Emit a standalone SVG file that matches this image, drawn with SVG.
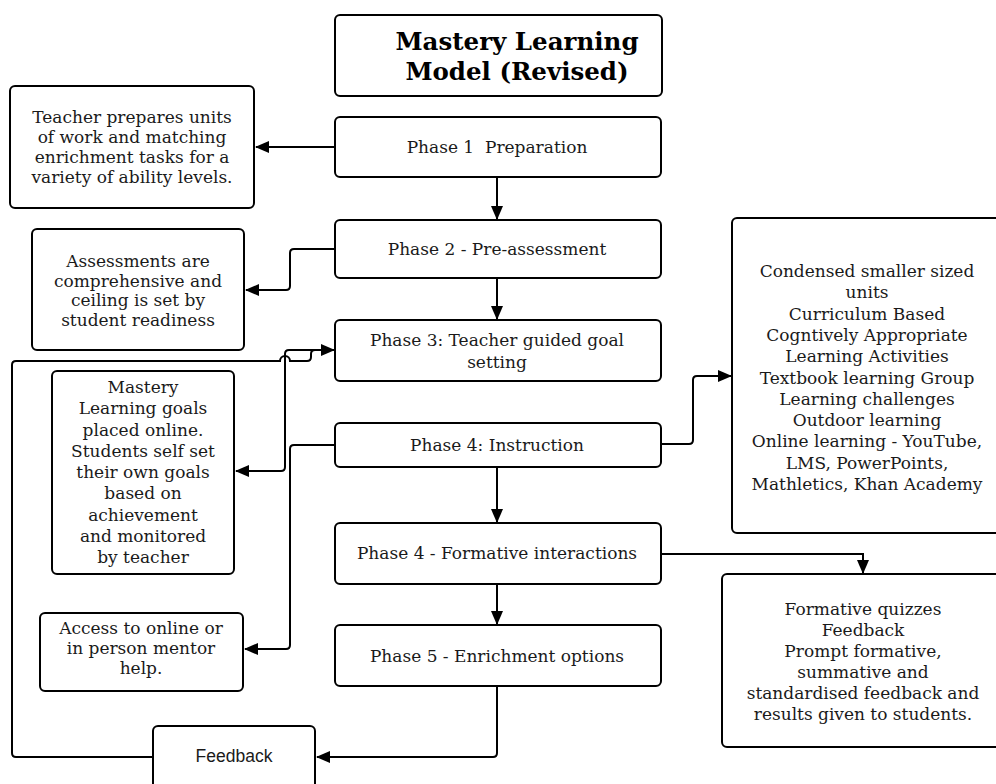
<svg xmlns="http://www.w3.org/2000/svg" width="996" height="784" viewBox="0 0 996 784">
<defs>
<marker id="ah" markerUnits="userSpaceOnUse" markerWidth="14" markerHeight="12" refX="13" refY="6" orient="auto">
<path d="M0,0 L14,6 L0,12 Z" fill="#000"/>
</marker>
<style>
.box{fill:#fff;stroke:#000;stroke-width:2}
.t{font-family:"DejaVu Serif","Liberation Serif",serif;font-size:17px;fill:#1a1a1a;text-anchor:middle;white-space:pre}
.ti{font-family:"DejaVu Serif","Liberation Serif",serif;font-size:24.5px;font-weight:bold;fill:#000;text-anchor:middle}
.s{font-family:"Liberation Sans",Arial,sans-serif;font-size:17.5px;fill:#1a1a1a;text-anchor:middle}
.c{fill:none;stroke:#000;stroke-width:2}
</style>
</defs>
<rect width="996" height="784" fill="#fff"/>
<g id="connectors">
<path class="c" d="M335,147 H256" marker-end="url(#ah)"/>
<path class="c" d="M497,177 V219" marker-end="url(#ah)"/>
<path class="c" d="M335,249 H294 Q290,249 290,253 V286 Q290,290 286,290 H246" marker-end="url(#ah)"/>
<path class="c" d="M497,278 V319" marker-end="url(#ah)"/>
<path class="c" d="M335,350 H289 Q285,350 285,354 V467 Q285,471 281,471 H236" marker-end="url(#ah)"/>
<path class="c" d="M335,445 H294 Q290,445 290,449 V645 Q290,649 286,649 H245" marker-end="url(#ah)"/>
<path class="c" d="M661,444 H689 Q693,444 693,440 V380 Q693,376 697,376 H731" marker-end="url(#ah)"/>
<path class="c" d="M497,467 V522" marker-end="url(#ah)"/>
<path class="c" d="M661,554 H863 V573" marker-end="url(#ah)"/>
<path class="c" d="M497,584 V624" marker-end="url(#ah)"/>
<path class="c" d="M497,686 V753 Q497,757 493,757 H317" marker-end="url(#ah)"/>
<path class="c" d="M153,757 H16 Q12,757 12,753 V365 Q12,361 16,361 H280 A5,5 0 0 1 290,361 H307 Q311,361 311,357 V354 Q311,350 315,350 H334" marker-end="url(#ah)"/>
</g>
<g id="title">
<rect class="box" x="335" y="15" width="327" height="81" rx="5"/>
<text class="ti" x="517" y="50">Mastery Learning</text>
<text class="ti" x="517" y="80">Model (Revised)</text>
</g>
<g id="phase1">
<rect class="box" x="335" y="117" width="326" height="60" rx="5"/>
<text class="t" x="497" y="153" xml:space="preserve">Phase 1  Preparation</text>
</g>
<g id="phase2">
<rect class="box" x="335" y="220" width="326" height="58" rx="5"/>
<text class="t" x="497" y="255">Phase 2 - Pre-assessment</text>
</g>
<g id="phase3">
<rect class="box" x="335" y="320" width="326" height="61" rx="5"/>
<text class="t" x="497" y="346">Phase 3: Teacher guided goal</text>
<text class="t" x="497" y="368">setting</text>
</g>
<g id="phase4">
<rect class="box" x="335" y="423" width="326" height="44" rx="5"/>
<text class="t" x="497" y="451">Phase 4: Instruction</text>
</g>
<g id="phase4b">
<rect class="box" x="335" y="523" width="326" height="61" rx="5"/>
<text class="t" x="497" y="559">Phase 4 - Formative interactions</text>
</g>
<g id="phase5">
<rect class="box" x="335" y="625" width="326" height="61" rx="5"/>
<text class="t" x="497" y="662">Phase 5 - Enrichment options</text>
</g>
<g id="feedback">
<rect class="box" x="153" y="726" width="162" height="70" rx="5"/>
<text class="s" x="234" y="762">Feedback</text>
</g>
<g id="prep-note">
<rect class="box" x="10" y="86" width="244" height="122" rx="5"/>
<text class="t" x="132" y="123">Teacher prepares units</text>
<text class="t" x="132" y="143">of work and matching</text>
<text class="t" x="132" y="163">enrichment tasks for a</text>
<text class="t" x="132" y="183">variety of ability levels.</text>
</g>
<g id="assess-note">
<rect class="box" x="32" y="229" width="212" height="121" rx="5"/>
<text class="t" x="138" y="267">Assessments are</text>
<text class="t" x="138" y="286.5">comprehensive and</text>
<text class="t" x="138" y="306">ceiling is set by</text>
<text class="t" x="138" y="325.5">student readiness</text>
</g>
<g id="goals-note">
<rect class="box" x="52" y="371" width="182" height="203" rx="5"/>
<text class="t" x="143" y="393">Mastery</text>
<text class="t" x="143" y="414">Learning goals</text>
<text class="t" x="143" y="435.5">placed online.</text>
<text class="t" x="143" y="457">Students self set</text>
<text class="t" x="143" y="478">their own goals</text>
<text class="t" x="143" y="499">based on</text>
<text class="t" x="143" y="520.5">achievement</text>
<text class="t" x="143" y="542">and monitored</text>
<text class="t" x="143" y="563">by teacher</text>
</g>
<g id="mentor-note">
<rect class="box" x="40" y="613" width="203" height="78" rx="5"/>
<text class="t" x="141" y="634">Access to online or</text>
<text class="t" x="141" y="654">in person mentor</text>
<text class="t" x="141" y="674">help.</text>
</g>
<g id="instruction-note">
<rect class="box" x="732" y="218" width="272" height="315" rx="5"/>
<text class="t" x="867" y="277">Condensed smaller sized</text>
<text class="t" x="867" y="298.3">units</text>
<text class="t" x="867" y="319.6">Curriculum Based</text>
<text class="t" x="867" y="340.9">Cogntively Appropriate</text>
<text class="t" x="867" y="362.2">Learning Activities</text>
<text class="t" x="867" y="383.5">Textbook learning Group</text>
<text class="t" x="867" y="404.8">Learning challenges</text>
<text class="t" x="867" y="426.1">Outdoor learning</text>
<text class="t" x="867" y="447.4">Online learning - YouTube,</text>
<text class="t" x="867" y="468.7">LMS, PowerPoints,</text>
<text class="t" x="867" y="490">Mathletics, Khan Academy</text>
</g>
<g id="formative-note">
<rect class="box" x="722" y="574" width="282" height="173" rx="5"/>
<text class="t" x="863" y="615">Formative quizzes</text>
<text class="t" x="863" y="636">Feedback</text>
<text class="t" x="863" y="657">Prompt formative,</text>
<text class="t" x="863" y="678">summative and</text>
<text class="t" x="863" y="699">standardised feedback and</text>
<text class="t" x="863" y="720">results given to students.</text>
</g>
</svg>
